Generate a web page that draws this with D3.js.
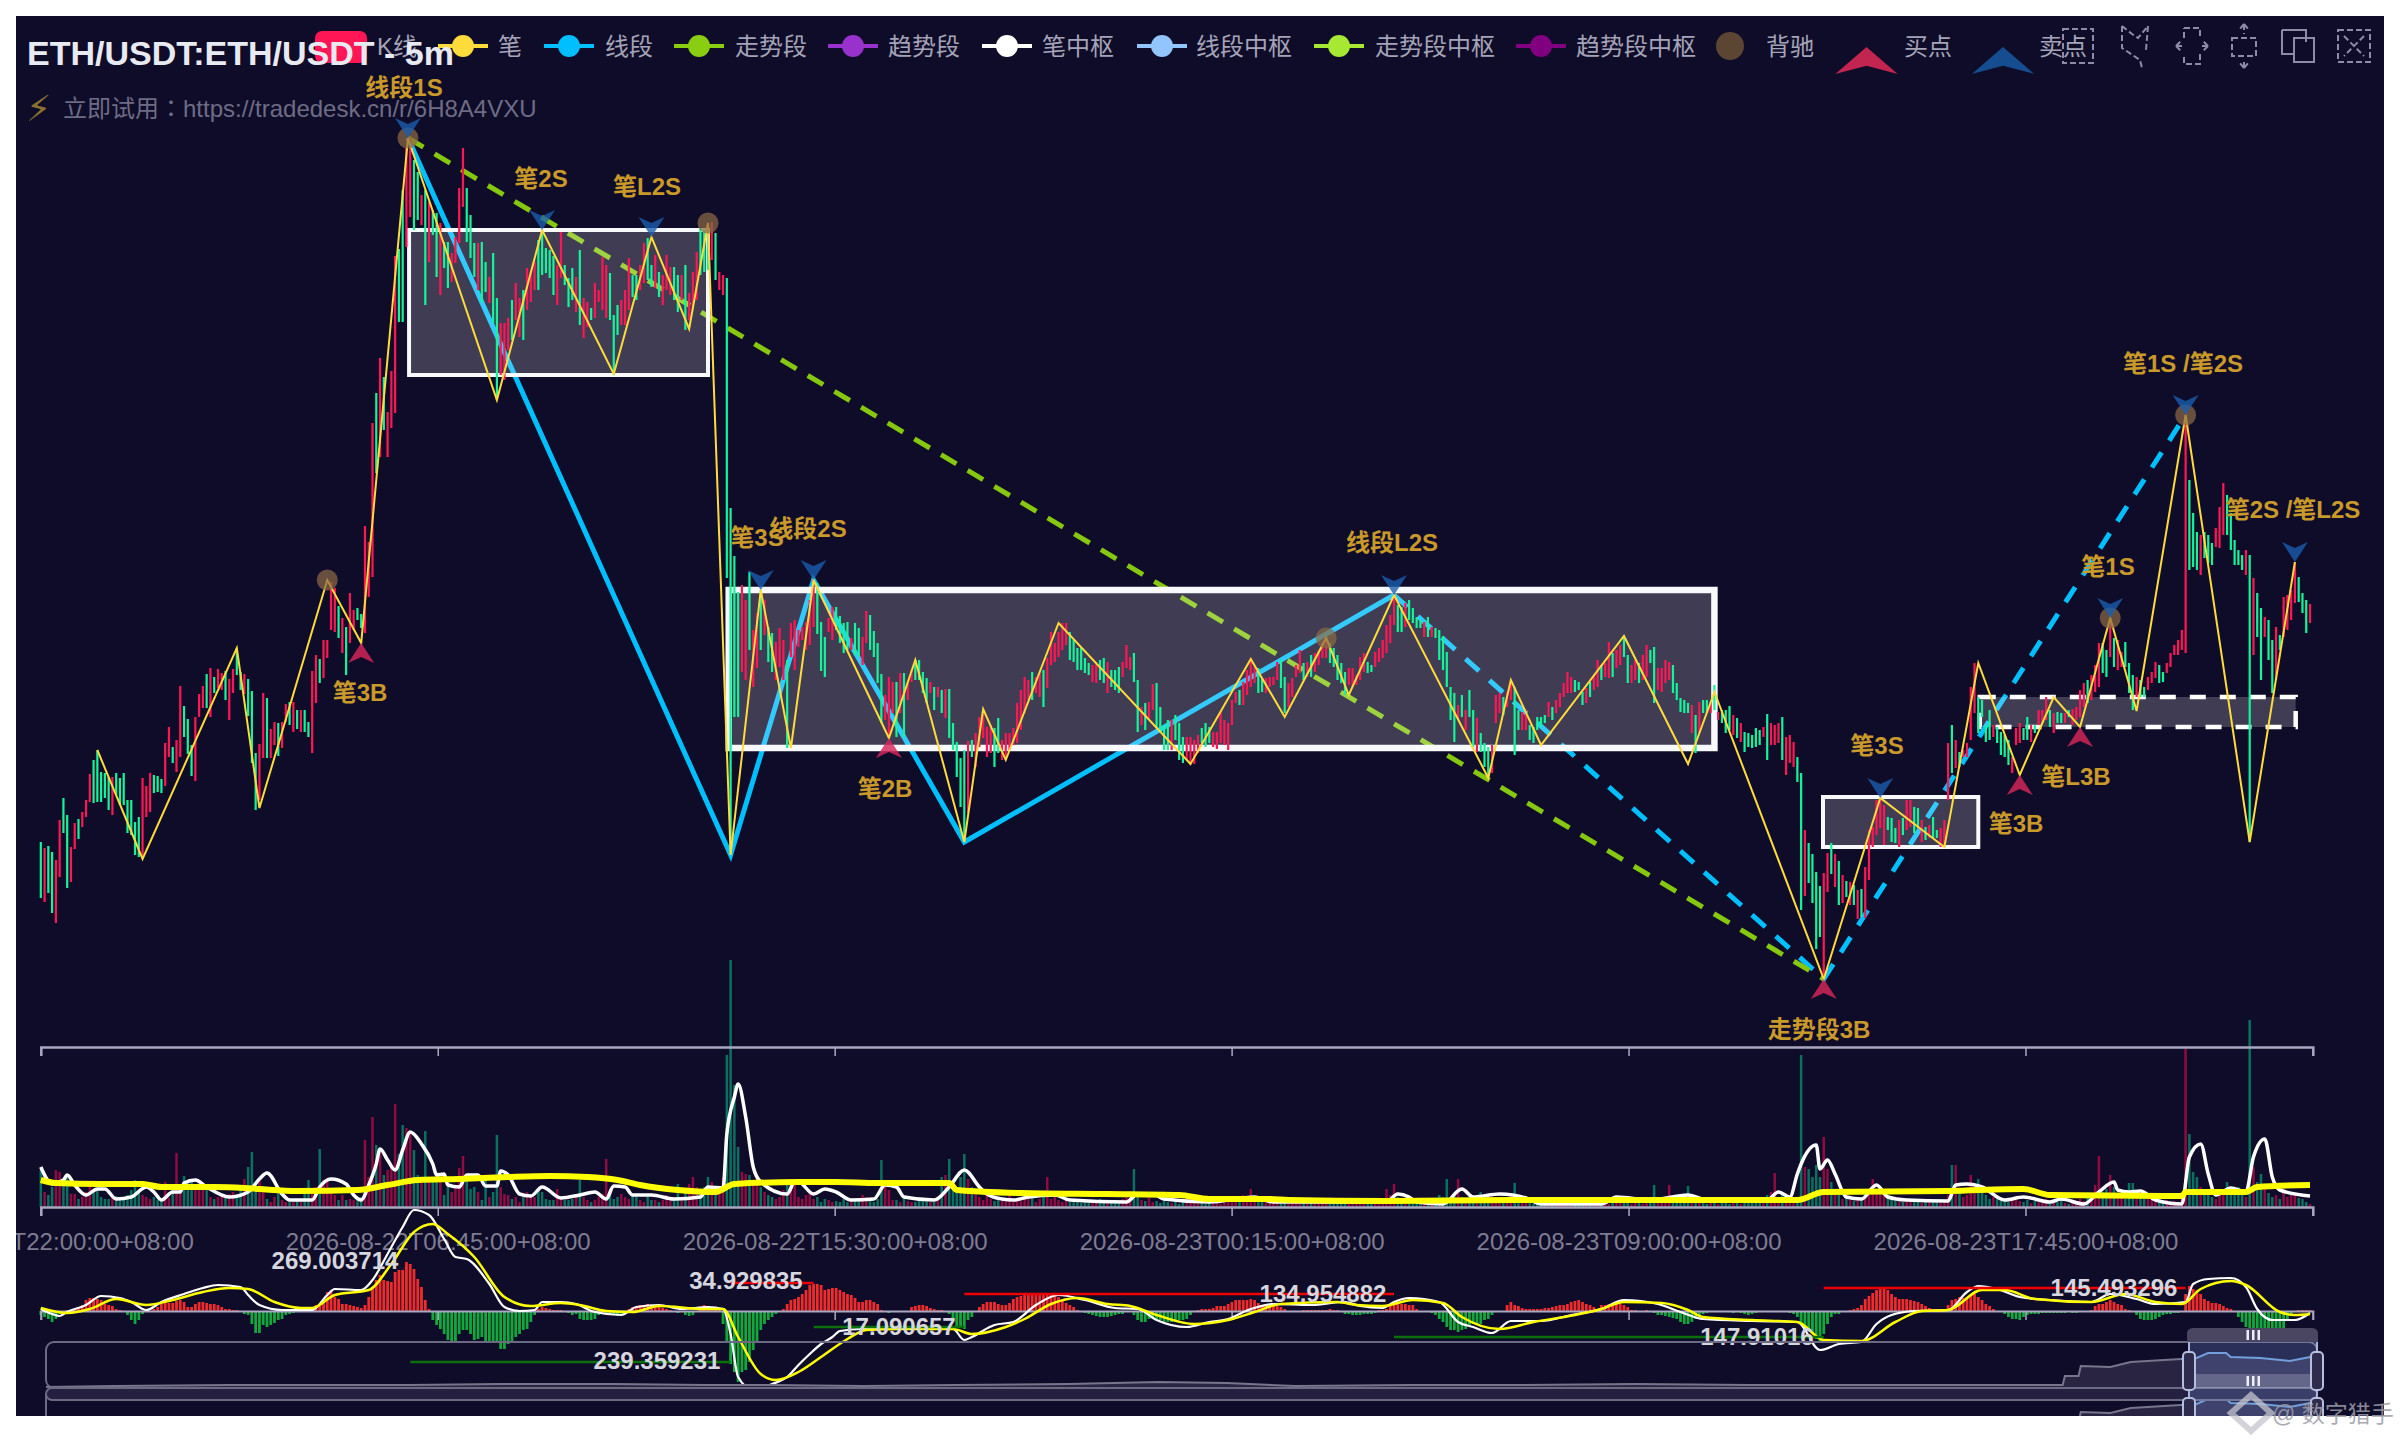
<!DOCTYPE html>
<html>
<head>
<meta charset="utf-8">
<script src="https://cdnjs.cloudflare.com/ajax/libs/d3/7.8.5/d3.min.js"></script>
<style>
body { margin: 0; background: #fff; }
text { font-family: "Liberation Sans", "Noto Sans CJK SC", sans-serif; }
</style>
</head>
<body>
<svg id="chart" width="2400" height="1440"></svg>
<script>
//candles, price axis is hidden so units are arbitrary
var candleHigh = [
158,152,154,148,140,180,202,185,153,177,
181,188,200,226,240,250,228,227,223,223,
227,222,227,200,200,178,183,222,214,227,
225,224,221,257,273,253,260,314,294,281,
255,283,306,314,326,332,323,331,327,329,
321,331,352,328,326,321,309,247,256,307,
302,271,278,277,278,296,298,298,290,290,
290,278,329,345,341,360,360,418,412,394,
382,373,407,390,392,386,474,458,577,607,
642,623,588,629,744,751,810,852,862,840,
828,805,810,798,790,787,777,758,758,747,
763,812,852,812,785,757,757,758,738,723,
747,702,677,677,682,700,717,702,710,732,
728,738,760,770,752,750,744,735,768,735,
722,732,723,750,702,698,692,717,710,743,
735,727,685,695,700,710,742,725,725,735,
757,762,735,745,728,725,745,733,733,725,
725,735,707,728,748,772,770,775,778,767,728,
725,722,492,444,408,415,400,428,370,387,
410,400,373,367,358,372,360,340,377,
380,370,373,378,400,420,417,378,363,382,
393,393,384,377,378,362,377,372,363,389,
385,369,357,326,305,323,318,318,327,327,
318,330,340,340,328,322,318,313,313,310,
311,311,277,258,242,250,259,260,267,283,
290,273,275,272,282,260,267,267,272,297,
310,323,320,328,323,328,330,342,368,357,
368,377,377,368,360,352,352,342,337,335,
338,340,342,338,330,330,333,338,355,343,
347,320,293,297,298,316,317,293,275,280,
280,285,277,263,263,263,260,265,272,277,
273,268,268,288,280,277,300,308,310,318,
330,342,333,332,322,322,323,323,338,340,
323,317,322,335,350,337,338,345,347,350,
357,362,357,352,345,337,328,332,332,325,
343,347,338,335,348,352,360,375,385,405,
395,393,397,400,392,383,380,378,383,373,
372,370,364,348,313,307,295,305,290,310,
290,282,267,257,253,255,305,307,303,308,
320,313,290,288,290,275,273,283,283,285,
298,293,300,307,317,328,323,320,318,308,
312,318,325,340,335,337,358,347,350,355,
364,345,335,340,337,345,355,350,353,332,
332,340,338,335,317,302,300,297,295,285,
298,300,300,298,315,288,290,290,294,285,
282,277,268,267,265,272,270,273,286,277,275,
277,283,263,265,258,243,227,170,157,146,
128,114,127,147,157,146,139,125,119,118,
115,110,111,133,170,173,200,202,195,183,
182,172,180,182,200,200,193,192,180,
173,175,183,170,172,180,257,275,260,248,
250,257,313,337,303,300,275,290,275,273,
268,265,260,243,272,277,272,283,275,275,
290,290,303,290,287,288,287,287,290,291,
293,310,317,320,325,335,357,357,350,382,
362,360,348,358,337,325,323,320,313,323,
328,338,335,328,337,347,355,360,370,585,
520,487,468,465,468,465,457,472,493,517,
505,487,460,450,445,450,445,422,407,392,
383,380,360,373,365,403,405,410,438,423,
407,400,396
];
var candleLow = [
102,98,107,87,77,123,167,112,118,151,
161,173,183,198,197,198,198,202,190,185,
205,195,195,167,165,145,143,142,183,188,
207,208,207,214,243,237,228,243,263,246,
224,219,283,292,292,283,307,312,310,300,
280,307,325,310,306,284,237,190,200,242,
242,242,255,244,252,278,275,268,271,268,
268,263,247,297,317,322,342,370,368,362,
347,325,357,370,380,372,367,403,423,527,
543,570,543,572,587,678,678,753,783,770,
780,775,695,738,765,723,705,732,712,718,
737,757,793,758,742,723,710,698,708,697,
677,600,625,620,650,660,680,663,660,690,
698,710,710,725,727,722,705,695,722,715,
693,700,688,675,662,673,680,682,698,690,
682,680,625,665,675,675,690,703,700,710,
717,720,713,712,703,695,710,705,700,688,
700,670,680,690,700,725,728,730,740,720,710,
705,422,145,283,283,328,320,350,313,332,
350,365,338,328,320,333,320,252,343,
330,353,360,350,355,373,366,329,323,368,
360,370,357,347,350,350,345,343,335,357,
350,343,317,277,280,262,287,263,287,263,
300,318,320,320,307,297,307,290,303,287,
282,262,250,223,193,158,187,243,233,253,
262,243,247,233,247,240,240,250,255,257,
270,287,300,300,307,303,293,312,335,338,
343,350,355,340,338,330,330,327,325,318,
317,320,317,307,313,310,307,323,332,330,
318,268,275,270,282,290,273,267,250,250,
250,260,240,237,240,237,236,247,257,253,
257,253,251,257,255,250,275,297,295,295,
305,313,317,307,308,307,313,315,320,312,
287,293,303,323,327,320,323,323,328,335,
342,342,337,333,320,317,305,315,313,315,
320,328,327,328,333,338,342,347,357,375,
368,368,373,380,377,372,372,363,363,363,
362,340,330,313,280,258,280,283,270,283,
253,248,248,233,222,227,277,287,285,293,
300,245,270,270,270,260,257,270,273,277,
283,280,287,293,303,307,307,308,310,295,
297,303,310,313,320,323,322,323,332,335,
343,317,317,320,317,320,323,337,297,310,
308,317,320,307,300,288,287,287,267,247,
267,287,287,287,290,280,277,267,270,265,
262,258,248,253,252,253,255,263,240,255,255,
257,240,225,237,233,218,90,104,117,97,
51,63,21,108,126,113,95,97,103,95,
95,81,83,82,120,153,165,172,155,170,
158,157,153,165,170,173,167,172,158,
160,162,162,162,153,153,200,227,232,233,
243,243,260,287,267,283,258,260,263,257,
245,243,235,227,255,257,260,260,258,267,
275,277,280,273,267,277,277,277,283,275,
280,283,293,297,300,308,313,327,323,343,
333,330,333,333,307,290,303,303,303,310,
317,322,317,318,327,333,345,345,350,347,
430,433,430,425,442,437,435,453,452,465,
465,450,435,435,430,425,158,345,363,320,
363,340,307,320,350,363,370,380,397,398,
387,367,377
];
//1 = rising (red), 0 = falling (green)
var candleUp = [
0,1,0,0,1,1,0,0,1,1, 0,1,1,1,0,0,0,0,0,1, 0,0,0,0,0,0,0,1,1,1, 0,0,0,1,1,0,1,1,0,0,
0,1,1,1,0,1,0,1,1,0, 1,1,0,0,1,0,0,0,1,1, 0,1,1,0,1,1,0,1,0,1, 0,0,1,1,0,1,1,1,1,0,
1,0,1,1,0,0,1,1,1,0, 1,0,1,1,1,0,0,1,1,0, 0,1,0,1,0,0,1,0,0,1, 1,1,1,0,0,0,1,0,0,1,
0,0,1,1,1,0,1,1,0,1, 1,1,0,0,0,0,0,1,1,0, 0,0,1,0,1,1,0,1,1,1, 1,0,0,0,1,1,1,0,0,1,
1,0,0,1,0,1,1,1,0,0, 1,0,1,1,1,0,0,0,1,0,1, 1,0,0,0,0,1,1,0,1,1, 0,1,0,0,1,1,1,0,1,
1,1,1,1,1,1,0,0,0,1, 1,0,0,0,0,1,0,0,1,1, 0,0,0,0,1,1,1,0,1,0, 1,1,0,0,0,0,1,0,1,0,
1,0,0,0,0,0,1,0,1,1, 1,1,1,0,0,1,1,1,1,1, 1,1,1,0,1,1,0,1,1,1, 1,1,1,0,0,0,0,0,0,1,
1,0,0,1,0,0,0,1,1,1, 0,0,1,0,1,1,0,0,0,0, 1,0,0,0,1,1,1,1,0,0, 0,1,1,1,1,1,1,1,0,1,
1,1,1,0,0,1,1,1,1,0, 0,1,1,1,1,0,1,0,1,1, 1,1,0,0,0,0,0,1,1,1, 1,1,0,0,1,1,1,1,1,1,
0,0,1,0,0,0,0,1,0,1, 0,0,0,0,0,0,1,0,1,0, 0,1,0,0,0,1,1,1,0,1, 1,0,0,1,1,0,0,0,0,0,
1,0,1,1,1,1,1,0,0,0, 1,0,1,1,0,1,1,0,1,1, 0,0,1,1,0,1,1,0,0,1, 1,1,1,0,0,0,0,0,1,0,
1,0,0,1,0,1,0,0,0,1, 0,1,0,0,0,0,0,1,0,1,1, 1,0,1,1,1,0,0,1,0,0, 0,0,1,1,0,1,0,1,0,1,
0,1,0,1,1,1,1,1,1,0, 0,0,1,0,1,1,0,0,1, 0,1,0,0,1,1,1,0,1,0, 1,1,1,1,0,0,0,0,1,0,
0,0,0,1,1,1,0,0,1,0, 1,1,1,0,1,0,0,1,0,1, 1,1,1,0,1,1,1,0,0,1, 0,1,1,0,0,0,1,0,0,1,
1,1,0,0,1,1,1,1,1,1, 0,0,0,1,0,0,0,1,1,1, 0,0,0,0,0,1,0,1,0,0, 1,0,0,1,0,1,1,1,1,0,
0,0,1
];
var volumeValues = [
37,15,12,20,37,35,25,33,13,13, 8,10,15,25,17,16,10,8,8,12, 11,10,10,12,17,27,16,12,10,8, 10,7,7,25,9,18,54,22,31,24,
28,22,25,23,17,10,8,10,13,10, 13,15,12,22,28,40,55,25,27,15, 8,5,10,17,7,5,5,5,7,5, 17,27,18,20,58,27,25,17,12,7,
12,7,8,7,10,10,67,30,90,62, 55,32,37,40,103,53,82,79,75,57, 32,27,76,25,27,35,25,12,20,15, 22,39,51,33,18,20,15,7,32,10,
15,72,20,13,12,8,10,5,10,15, 12,10,18,15,8,7,7,18,8,7, 7,8,10,27,10,7,5,7,10,13, 48,13,8,10,13,10,8,12,10,7,
5,10,7,7,5,7,12,8,7,23, 10,17,23,30,20,18,20,30,25,15,20, 30,152,247,122,60,35,33,32,25,30, 20,15,12,10,8,10,17,23,23,
23,10,8,12,15,8,10,5,8,7, 5,6,5,8,5,8,7,9,12,10, 6,5,8,47,22,17,7,7,5,8, 6,5,5,7,8,6,5,5,7,30,
32,48,20,15,30,53,28,20,15,10, 7,12,8,6,7,9,8,13,5,7, 6,12,9,10,5,8,12,30,8,12, 7,5,9,5,6,8,4,5,7,6,
5,8,4,6,5,7,5,8,12,15, 38,10,7,6,9,5,6,4,7,5, 4,6,3,5,9,8,4,6,5,3, 5,7,4,3,6,5,7,5,8,12,
9,18,6,5,8,7,4,5,6,3, 5,3,7,4,3,5,8,5,6,3, 4,6,3,5,4,7,5,3,4,6, 3,4,5,3,5,3,8,18,12,23,
10,6,5,7,4,5,3,6,4,5, 8,12,10,28,9,13,28,10,8,12, 10,7,15,9,13,12,8,10,7,9, 12,24,8,5,6,4,3,4,5,3,
4,3,2,4,3,5,3,2,4,3, 3,5,7,10,4,5,3,8,5,6, 4,5,3,6,8,3,4,5,22,7, 5,6,22,9,8,6,11,21,7,5,
8,4,3,6,4,3,5,8,3,4, 5,3,4,6,4,5,7,8,12,15,34, 10,14,8,12,6,9,152,40,38,30, 42,30,70,38,25,18,12,8,10,7,
6,8,9,10,12,28,15,20,18,12, 9,7,6,5,8,7,6,5,4, 6,5,7,5,4,6,12,42,42,18, 10,12,32,20,28,18,12,8,10,9,
6,8,5,7,10,6,5,7,4,6, 5,7,8,4,6,5,7,4,3,5, 4,8,6,10,12,22,51,15,18,32, 20,14,10,8,24,24,12,10,8,9,
7,5,6,4,7,5,6,5,8,158, 73,35,30,20,15,12,10,8,14,12, 25,18,12,20,15,10,187,40,25,33, 20,14,10,12,8,18,10,14,12,9,
8,5,3
];
var macdHist = [
-4,-6,-8,-11,-8,-3,0,1,1,2, 4,6,11,13,13,12,11,7,6,5, 2,1,-1,-4,-9,-13,-9,-3,-1,0, 2,4,7,9,8,8,10,11,9,4,
4,7,9,9,8,7,7,6,4,2, 2,1,1,-1,-3,-4,-13,-22,-22,-14, -16,-14,-12,-9,-8,-4,-3,-2,-1,-1, -1,-1,2,6,7,8,19,21,14,12,
7,7,6,5,4,3,6,14,24,31, 36,31,30,29,39,41,41,49,47,42, 32,24,11,2,-9,-14,-18,-23,-29,-30, -30,-23,-19,-19,-23,-29,-28,-26,-31,-31,
-31,-32,-38,-38,-33,-31,-26,-23,-19,-18, -11,-4,2,4,3,2,1,1,1,0, -2,-4,-3,-8,-9,-9,-9,-8,-4,-1, -3,-3,-4,-5,-3,0,2,4,5,6,
6,7,6,5,4,3,2,1,-1,-2, -1,-4,-5,-4,-1,2,6,3,3,2, 1,-13,-31,-53,-61,-71,-61,-59,-51,-39, -31,-19,-13,-9,-6,-3,0,2,7,11,
12,14,17,21,26,27,27,26,21,22, 23,23,21,19,17,16,13,9,9,11, 11,9,7,1,-1,-2,-1,0,0,-1, 0,4,5,6,6,5,3,2,1,1,
0,-3,-9,-15,-15,-18,-9,-6,0,4, 7,9,9,9,7,6,6,8,12,14, 15,16,17,17,16,16,17,17,17,16, 14,11,8,6,4,1,0,-2,-3,-4,
-5,-6,-6,-6,-5,-4,-3,-3,-1,-1, -4,-9,-11,-11,-8,-6,-8,-9,-11,-11, -11,-9,-9,-9,-8,-4,-1,1,2,2, 2,3,5,5,5,7,9,11,11,11,
11,12,11,8,6,6,6,6,5,4, 2,0,-1,0,0,1,1,1,1,1, 1,1,2,1,1,0,-3,-3,-4,-4, -4,-3,-3,-3,-2,1,1,2,6,7,
7,7,7,6,6,2,0,0,-1,-2, -4,-8,-11,-16,-19,-19,-21,-19,-18,-14, -13,-14,-13,-9,-8,-4,-1,-1,0,6, 9,6,5,3,2,2,2,2,2,3,
3,4,5,6,6,7,9,10,11,9, 7,6,4,2,6,6,7,7,7,7, 6,4,1,1,0,0,1,-1,-2,-4, -4,-5,-6,-7,-8,-11,-13,-13,-11,-8,
-4,-3,-2,-1,-1,-1,-1,-1,-1,-2, -1,-2,-3,-4,-3,-2,-1,-1,0,-1, 0,-1,0,-1,-2,-3,-6,-14,-18,-19, -23,-28,-30,-23,-13,-6,-3,-3,-1,0,
1,2,3,6,12,15,18,21,22,22, 21,17,14,12,12,12,11,10,9,7, 5,3,2,2,2,1,6,11,12,14, 13,14,16,17,14,11,7,5,2,-1,
-1,-3,-6,-8,-8,-9,-6,-4,-3,-3, -3,-2,-2,-2,-2,-2,-2,-2,-1,-2, -2,-1,-1,-1,1,5,7,7,9,11, 9,7,6,2,1,-1,-4,-8,-9,-9,
-9,-8,-6,-4,-3,-3,-2,-2,-1,17, 25,22,21,17,12,10,8,8,7,5, 3,2,-1,-6,-11,-16,-19,-29,-23,-22, -19,-23,-23,-23,-21,-18,-9,-4,0,1,
1,1,1
];

//volume moving averages, [candle index, value]
var volFast = [[0,40],[3,23],[6,27],[7,32],[9,22],[12,12],[15,18],[17,18],[20,8],[24,10],[28,20],[30,15],[32,7],[35,15],[37,15],[38,24],[41,27],[44,20],[50,10],[55,15],[58,28],[60,34],[64,13],[66,7],[72,7],[74,20],[77,28],[81,23],[83,12],[85,7],[87,22],[89,43],[90,58],[92,47],[94,37],[96,57],[98,75],[101,63],[104,43],[105,32],[107,33],[108,22],[111,20],[113,32],[116,32],[118,21],[121,21],[122,36],[124,32],[127,13],[130,11],[133,20],[138,9],[143,12],[147,15],[150,8],[152,21],[155,20],[157,12],[162,12],[168,8],[175,10],[177,20],[181,19],[182,73],[184,110],[185,123],[187,90],[189,40],[191,25],[198,13],[200,25],[201,25],[205,13],[208,18],[211,15],[215,7],[221,8],[224,22],[227,20],[229,10],[237,7],[241,20],[245,37],[249,20],[251,13],[255,8],[258,7],[262,10],[269,12],[273,7],[288,5],[291,13],[295,13],[298,8],[310,5],[322,10],[327,5],[357,5],[360,13],[363,10],[365,5],[372,3],[377,18],[380,10],[387,13],[394,9],[398,3],[414,3],[418,10],[427,7],[437,12],[442,7],[458,7],[461,15],[464,10],[466,33],[467,43],[471,62],[472,38],[474,47],[476,33],[479,10],[483,8],[487,22],[490,10],[495,7],[506,6],[508,22],[511,23],[515,20],[521,7],[526,10],[533,5],[536,8],[542,3],[546,15],[550,25],[551,17],[554,15],[557,16],[561,7],[568,3],[570,50],[573,63],[575,33],[577,12],[581,19],[585,15],[587,50],[590,68],[592,30],[594,17],[602,11]];
var volSlow = [[0,27],[4,24],[16,23],[27,23],[32,20],[46,20],[54,19],[58,18],[68,16],[84,17],[92,22],[100,27],[111,28],[124,30],[135,31],[145,30],[153,27],[159,22],[169,17],[179,15],[184,23],[201,25],[211,25],[222,24],[241,24],[243,17],[260,14],[283,13],[302,12],[310,8],[326,8],[331,7],[357,6],[391,7],[398,7],[414,7],[441,7],[458,7],[466,7],[473,15],[506,16],[526,18],[533,12],[568,11],[569,15],[585,15],[588,20],[602,22]];

//macd lines, [candle index, value]
var difLine = [[0,2],[3,-3],[5,-5],[7,-1],[12,6],[16,15],[21,13],[24,9],[28,1],[32,9],[38,17],[43,23],[47,26],[53,24],[55,16],[58,6],[64,1],[72,1],[76,16],[78,22],[85,21],[88,31],[92,57],[96,84],[99,101],[103,96],[107,72],[110,54],[113,52],[119,27],[123,4],[127,0],[131,1],[133,9],[138,9],[142,7],[147,-1],[154,-4],[158,4],[164,6],[170,2],[177,4],[181,2],[183,-23],[185,-66],[189,-79],[194,-73],[198,-66],[201,-54],[204,-43],[207,-33],[210,-26],[212,-20],[218,-18],[227,-18],[242,-18],[245,-29],[247,-26],[253,-14],[258,-11],[264,6],[270,16],[277,11],[285,3],[291,2],[296,-9],[304,-16],[310,-11],[315,-8],[321,2],[327,7],[337,6],[346,9],[350,5],[356,3],[359,9],[363,13],[371,9],[376,-11],[380,-16],[385,-22],[390,-10],[398,-10],[406,-4],[414,2],[420,11],[429,7],[435,-1],[441,-8],[454,-10],[466,-11],[472,-39],[477,-33],[483,-31],[487,-13],[491,-4],[497,0],[506,1],[511,19],[514,25],[519,22],[525,14],[533,11],[544,9],[549,17],[556,12],[561,7],[569,9],[571,27],[575,32],[581,33],[585,24],[588,2],[592,-9],[598,-9],[602,-2]];
var deaLine = [[0,3],[7,-2],[13,2],[20,12],[28,6],[35,11],[43,19],[50,23],[55,22],[62,9],[69,3],[72,3],[78,16],[87,21],[93,47],[99,79],[104,87],[108,77],[115,54],[123,14],[130,5],[138,8],[143,6],[150,0],[157,-1],[164,5],[176,2],[181,2],[185,-26],[191,-63],[195,-69],[201,-61],[207,-46],[214,-28],[219,-19],[228,-18],[242,-18],[247,-23],[256,-16],[261,-8],[268,7],[275,13],[283,7],[289,5],[296,-4],[306,-13],[315,-9],[322,-1],[329,7],[344,9],[349,6],[356,5],[364,11],[372,8],[377,-6],[387,-18],[396,-11],[407,-4],[414,2],[420,9],[430,8],[437,1],[441,-6],[454,-9],[466,-11],[473,-29],[483,-30],[492,-11],[499,0],[506,1],[515,21],[521,21],[529,12],[544,9],[553,17],[561,9],[568,7],[573,22],[581,30],[585,26],[594,-1],[598,-4],[602,-3]];

//bi / segment / trend vertices, [candle index, price]
var biLine = [[15,250],[27,141],[52,352],[58,192],[76,420],[85,357],[97.4,862],[121,600],[133,770],[152,626],[162,763],[172,671],[177,777],[183,145],[191,410],[199,252],[205,420],[225,262],[232,340],[245,158],[250,291],[256,240],[270,377],[305,236],[321,341],[330,283],[341,362],[347,305],[359,405],[384,222],[390,320],[398,255],[420,364],[437,236],[444,308],[473,21],[488,202],[505,153],[514,337],[525,225],[534,303],[541,273],[549,382],[556,289],[569,585],[586,158],[598,438]];
var segSolid = [[97.4,862],[183,145],[205,420],[245,158],[359,405]];
var segDashed = [[359,405],[473,21],[569,585]];
var trendLine = [[97.4,862],[473,21]];

//pivot boxes, [start index, end index, low price, high price]
var biBoxes = [[57.7,57.7,177,264],[97.7,177,625,770],[472.8,514,153,203]];
var segBox = [[182.5,444,252,410]];
var biBoxDashed = [[514.4,598.2,273,303]];
var segBoxDashed = [[569,569,145,425]];

//signals, [candle index, price]
var sellPoints = [[97.4,862],[133,770],[162,763],[191,410],[205,420],[359,405],[488,202],[549,382],[569,585],[598,438]];
var buyPoints = [[85,357],[225,262],[473,21],[525,225],[541,273]];
var divPoints = [[97.4,862],[177,777],[76,420],[341,362],[549,382],[569,585]];

//macd area lines, [from index, to index, value]
var macdAreas = [[183,205,28],[205,245,-16],[245,359,17],[98,183,-51],[359,473,-26],[473,569,23]];

//date axis, one tick every 105 bars
var tickIndex = [0,105,210,315,420,525,601];
var tickNames = ["2026-08-21T22:00:00+08:00","2026-08-22T06:45:00+08:00","2026-08-22T15:30:00+08:00","2026-08-23T00:15:00+08:00","2026-08-23T09:00:00+08:00","2026-08-23T17:45:00+08:00",""];

//legend
var legendNames = ["笔","线段","走势段","趋势段","笔中枢","线段中枢","走势段中枢","趋势段中枢"];
var legendColors = ["#ffdb3c","#00bfff","#8ace12","#9932cc","#ffffff","#93c5fd","#a6e832","#800080"];

//overview slider series, [percent, value]
var sliderLine = [[0,1],[3,2],[8,3],[13,3],[16,3],[20,4],[25,4],[29,3],[32,3],[36,2],[40,3],[45,4],[49,6],[52,5],[55,2],[60,3],[65,3],[70,4],[75,3],[80,3],[85,3],[88.8,3],[88.9,12],[89.5,12],[89.6,22],[90.9,21],[91.8,26],[94,29],[94.7,30],[95.2,35],[96,35],[96.2,31],[97.5,30],[98.8,27],[99.7,31]];

var RED = "#ff1654", GREEN = "#12f59a", BG = "#0f0c29", GOLD = "#c9992a";

var svg = d3.select("#chart");
svg.append("defs").append("clipPath").attr("id","clipChart")
    .append("rect").attr("x",16).attr("y",16).attr("width",2368).attr("height",1400);
var root = svg.append("g").attr("clip-path","url(#clipChart)");
root.append("rect").attr("x",16).attr("y",16).attr("width",2368).attr("height",1400).attr("fill",BG);

//scales
var x = d3.scaleLinear().domain([0,602]).range([40.8,2310]);
var xAxisScale = d3.scaleLinear().domain([0,601]).range([40.8,2312.8]);
var y = d3.scaleLinear().domain([0,900]).range([1000,100]);
var yVol = d3.scaleLinear().domain([0,250]).range([1207,957]);
var yMacd = d3.scaleLinear().domain([-100,100]).range([1411,1211]);
var xSlider = d3.scaleLinear().domain([0,100]).range([46,2317]);
var ySlider = d3.scaleLinear().domain([0,60]).range([1388,1328]);

var priceLine = d3.line().x(function(d){return x(d[0])}).y(function(d){return y(d[1])});

//segment + trend lines sit under the boxes
function drawPrice(data,color,w,dash) {
    root.append("path").attr("d",priceLine(data)).attr("fill","none")
	.attr("stroke",color).attr("stroke-width",w).attr("stroke-dasharray",dash||null);
}
drawPrice(segSolid,"#00bfff",5);
drawPrice(segDashed,"#00bfff",5,"18 14");
drawPrice(trendLine,"#86c80f",5,"18 13");

function drawBox(b,w,color,dash,fill) {
    root.append("rect")
	.attr("x",x(b[0])).attr("width",x(b[1])-x(b[0]))
	.attr("y",y(b[3])).attr("height",y(b[2])-y(b[3]))
	.attr("fill",fill ? "rgba(255,255,255,0.2)" : "none")
	.attr("stroke",color).attr("stroke-width",w)
	.attr("stroke-dasharray",dash||null);
}
biBoxes.forEach(function(b){ drawBox(b,b[0]==b[1]?5:4,"#f8f9fc",null,true) });
segBox.forEach(function(b){ drawBox(b,6.5,"#f8f9fc",null,true) });
biBoxDashed.forEach(function(b){ drawBox(b,4.5,"#ffffff","16 14",true) });
segBoxDashed.forEach(function(b){ drawBox(b,3.5,"#93c5fd","16 14",true) });

//candles
root.append("g").selectAll("rect").data(candleHigh).enter().append("rect")
    .attr("x",function(d,i){return x(i)-1.1})
    .attr("width",2.2)
    .attr("y",function(d){return y(d)})
    .attr("height",function(d,i){return y(candleLow[i])-y(d)})
    .attr("fill",function(d,i){return candleUp[i]?RED:GREEN});

drawPrice(biLine,"#ffdb3c",2);

//markers
function arrow(dir,s) {
    var w = 13*s, h = 20*s, n = 6*s;
    return "M0,0L"+w+","+(dir*h)+"L0,"+(dir*(h-n))+"L"+(-w)+","+(dir*h)+"Z";
}
root.append("g").selectAll("circle").data(divPoints).enter().append("circle")
    .attr("cx",function(d){return x(d[0])}).attr("cy",function(d){return y(d[1])})
    .attr("r",10.5).attr("fill","#8a6a45").attr("opacity",0.72);
root.append("g").selectAll("path").data(sellPoints).enter().append("path")
    .attr("d",arrow(-1,1))
    .attr("transform",function(d){return "translate("+x(d[0])+","+y(d[1])+")"})
    .attr("fill","#1a5fb0").attr("opacity",0.78);
root.append("g").selectAll("path").data(buyPoints).enter().append("path")
    .attr("d",arrow(1,1))
    .attr("transform",function(d){return "translate("+x(d[0])+","+y(d[1])+")"})
    .attr("fill","#d8265a").attr("opacity",0.82);

//signal labels
[["线段1S",404,87],["笔2S",541,178],["笔L2S",647,186],["笔3B",360,692],["笔3S",757,537],["线段2S",808,528],
 ["笔2B",885,788],["线段L2S",1392,542],["走势段3B",1819,1029],["笔3S",1877,745],["笔L3B",2076,776],["笔3B",2016,823],
 ["笔1S",2108,566],["笔1S /笔2S",2183,363],["笔2S /笔L2S",2293,509]].forEach(function(l){
    root.append("text").attr("x",l[1]).attr("y",l[2]).attr("dy","0.36em")
	.attr("text-anchor","middle").attr("font-size",24).attr("font-weight","bold")
	.attr("fill",GOLD).text(l[0]);
});

//volume
root.append("g").selectAll("rect").data(volumeValues).enter().append("rect")
    .attr("x",function(d,i){return x(i)-1.25}).attr("width",2.5)
    .attr("y",function(d){return yVol(d)})
    .attr("height",function(d){return yVol(0)-yVol(d)})
    .attr("fill",function(d,i){return candleUp[i]?"#8f0b42":"#0a7060"});
var volPath = d3.line().x(function(d){return x(d[0])}).y(function(d){return yVol(d[1])}).curve(d3.curveMonotoneX);
root.append("path").attr("d",volPath(volFast)).attr("fill","none").attr("stroke","#fff").attr("stroke-width",3.5);
root.append("path").attr("d",volPath(volSlow)).attr("fill","none").attr("stroke","#ffff00").attr("stroke-width",6);

//axes
function drawAxis(yPos,labels) {
    var ax = d3.axisBottom(xAxisScale).tickValues(tickIndex).tickSize(9)
	.tickFormat(labels ? function(d,i){return tickNames[i]} : "");
    var g = root.append("g").attr("transform","translate(0,"+yPos+")").call(ax);
    g.select(".domain").attr("stroke","#aaa8c0").attr("stroke-width",2.5);
    g.selectAll(".tick line").attr("stroke","#aaa8c0").attr("stroke-width",1.5);
    g.selectAll("text").attr("fill","#7e7c91").attr("font-size",24).attr("y",26)
	.attr("dy","0.71em").style("font-family",'"Liberation Sans"');
    return g;
}
drawAxis(1047,false);
drawAxis(1207,true);

//macd
root.append("g").selectAll("rect").data(macdHist).enter().append("rect")
    .attr("x",function(d,i){return x(i)-1.4}).attr("width",2.8)
    .attr("y",function(d){return d>0?yMacd(d):yMacd(0)})
    .attr("height",function(d){return Math.abs(yMacd(d)-yMacd(0))})
    .attr("fill",function(d){return d>0?"#f02b2b":"#13a83c"});
drawAxis(1311,false).selectAll(".domain").attr("stroke-width",2);
var macdPath = d3.line().x(function(d){return x(d[0])}).y(function(d){return yMacd(d[1])}).curve(d3.curveMonotoneX);
root.append("path").attr("d",macdPath(difLine)).attr("fill","none").attr("stroke","#fff").attr("stroke-width",2.2);
root.append("path").attr("d",macdPath(deaLine)).attr("fill","none").attr("stroke","#ffff00").attr("stroke-width",2.5);
root.append("g").selectAll("line").data(macdAreas).enter().append("line")
    .attr("x1",function(d){return x(d[0])}).attr("x2",function(d){return x(d[1])})
    .attr("y1",function(d){return yMacd(d[2])}).attr("y2",function(d){return yMacd(d[2])})
    .attr("stroke",function(d){return d[2]>0?"#ee0000":"#0a700a"}).attr("stroke-width",2.5);
[["269.003714",335,1260],["34.929835",746,1280],["17.090657",899,1326],["134.954882",1323,1293],
 ["239.359231",657,1360],["147.91016",1757,1336],["145.493296",2114,1287]].forEach(function(l){
    root.append("text").attr("x",l[1]).attr("y",l[2]).attr("dy","0.36em").attr("text-anchor","middle")
	.attr("font-size",24).attr("font-weight","bold").attr("fill","#d6d6de").text(l[0]);
});

//overview slider
[0,46].forEach(function(dy){
    var g = root.append("g").attr("transform","translate(0,"+dy+")");
    g.append("rect").attr("x",46).attr("y",1342).attr("width",2271).attr("height",46).attr("rx",8)
	.attr("fill","none").attr("stroke","#6c6a83").attr("stroke-width",2);
    var area = d3.area().x(function(d){return xSlider(d[0])}).y0(ySlider(0)).y1(function(d){return ySlider(d[1])});
    var line = d3.line().x(function(d){return xSlider(d[0])}).y(function(d){return ySlider(d[1])});
    var outside = sliderLine.filter(function(d){return d[0]<=94.3});
    var inside = sliderLine.filter(function(d){return d[0]>=94});
    g.append("path").attr("d",area(sliderLine)).attr("fill","#2a2443");
    g.append("path").attr("d",line(outside)).attr("fill","none").attr("stroke","#77758c").attr("stroke-width",2);
    g.append("path").attr("d",line(inside)).attr("fill","none").attr("stroke","#6c9bd2").attr("stroke-width",2);
});
root.append("rect").attr("x",46).attr("y",1388).attr("width",2271).attr("height",12).attr("rx",6)
    .attr("fill","#252040").attr("stroke","#6c6a83").attr("stroke-width",2);
root.append("rect").attr("x",2189).attr("y",1342).attr("width",128).attr("height",74).attr("fill","rgba(135,175,255,0.22)");
root.append("path").attr("d","M2187,1342V1334q0,-6 6,-6H2312q6,0 6,6V1342Z").attr("fill","#4a4560");
root.append("rect").attr("x",2189).attr("y",1374).attr("width",128).attr("height",14).attr("fill","rgba(255,255,255,0.2)");
[1335,1381].forEach(function(yy){
    [-5,0,5].forEach(function(o){
	root.append("rect").attr("x",2252+o*1.1).attr("y",yy-5).attr("width",2.5).attr("height",10).attr("fill","#eef");
    });
});
[2189,2317].forEach(function(xx){
    root.append("line").attr("x1",xx).attr("x2",xx).attr("y1",1342).attr("y2",1416).attr("stroke","#a9b4d8").attr("stroke-width",2);
    [[1352,38],[1398,30]].forEach(function(h){
	root.append("rect").attr("x",xx-6).attr("y",h[0]).attr("width",12).attr("height",h[1]).attr("rx",4)
	    .attr("fill","#2f2b4d").attr("stroke","#b6bedd").attr("stroke-width",2);
    });
});

//legend
var legY = 46, legText = "#a5a3b7";
root.append("rect").attr("x",315).attr("y",31).attr("width",52).attr("height",32).attr("rx",7).attr("fill","#ff1654");
function legendLabel(str,lx) {
    root.append("text").attr("x",lx).attr("y",legY).attr("dy","0.36em").attr("font-size",24).attr("fill",legText).text(str);
}
legendLabel("K线",377);
var legLineX = [438,544,674,828,982,1137,1314,1516];
var legTextX = [498,605,735,888,1042,1196,1375,1576];
legendNames.forEach(function(n,i){
    root.append("line").attr("x1",legLineX[i]).attr("x2",legLineX[i]+50).attr("y1",legY).attr("y2",legY)
	.attr("stroke",legendColors[i]).attr("stroke-width",4);
    root.append("circle").attr("cx",legLineX[i]+25).attr("cy",legY).attr("r",11).attr("fill",legendColors[i]);
    legendLabel(n,legTextX[i]);
});
root.append("circle").attr("cx",1730).attr("cy",legY).attr("r",14).attr("fill","#5c4633");
legendLabel("背驰",1766);
root.append("path").attr("d",arrow(1,2.4)).attr("transform","translate(1866.5,47) scale(1,0.56)").attr("fill","#c2254f");
legendLabel("买点",1904);
root.append("path").attr("d",arrow(1,2.4)).attr("transform","translate(2003,47) scale(1,0.56)").attr("fill","#164d90");
legendLabel("卖点",2039);

//toolbox
var iconPaths = [
    "M-15,-17H15V17H-15Z",
    "M-14,-20L-4,-12L2,-8L12,-20M-14,-20L-14,2L4,14L6,22M12,-20L10,4",
    "M-8,-18H8V-8M8,8V18H-8V8M-8,-8V-18M-16,0H-8M-16,0L-11,-5M-16,0L-11,5M16,0H8M16,0L11,-5M16,0L11,5",
    "M-12,-8H12V10H-12ZM0,-22V-12M0,-22L-5,-16M0,-22L5,-16M0,22V14M0,22L-5,16M0,22L5,16",
    "M-16,-16H8V-4M-16,-16V8H-4M-4,-8H16V16H-4Z",
    "M-16,-16H16V16H-16ZM-10,-10L10,10M10,-10L-10,10"
];
[2078,2136,2192,2244,2298,2354].forEach(function(cx,i){
    root.append("path").attr("d",iconPaths[i]).attr("transform","translate("+cx+",46)")
	.attr("fill","none").attr("stroke","#8d8ba5").attr("stroke-width",2)
	.attr("stroke-dasharray",i!=4?"6 3":null);
});

//title on top of the legend
root.append("text").attr("x",27).attr("y",65).attr("font-size",34).attr("font-weight","bold")
    .attr("fill","#e8eaf2").text("ETH/USDT:ETH/USDT - 5m");
root.append("text").attr("x",26).attr("y",108).attr("dy","0.36em").attr("font-size",36)
    .attr("fill","#8a7030").style("font-family",'"DejaVu Sans"').text("⚡");
var sub = root.append("text").attr("x",63).attr("y",108).attr("dy","0.36em").attr("font-size",24).attr("fill","#6e6c85");
sub.append("tspan").text("立即试用");
sub.append("tspan").style("font-family",'"Noto Sans CJK TC"').text("：");
sub.append("tspan").text("https://tradedesk.cn/r/6H8A4VXU");

//watermark runs past the dark area
svg.append("path").attr("d","M2251,1395L2271,1413L2251,1431L2231,1413Z").attr("fill","none").attr("stroke","#c4c4cc").attr("stroke-width",6).attr("opacity",0.75);
svg.append("text").attr("x",2272).attr("y",1414).attr("dy","0.36em").attr("font-size",23).attr("fill","#9c9ca6").attr("opacity",0.85).text("@ 数字猎手");
</script>
</body>
</html>
